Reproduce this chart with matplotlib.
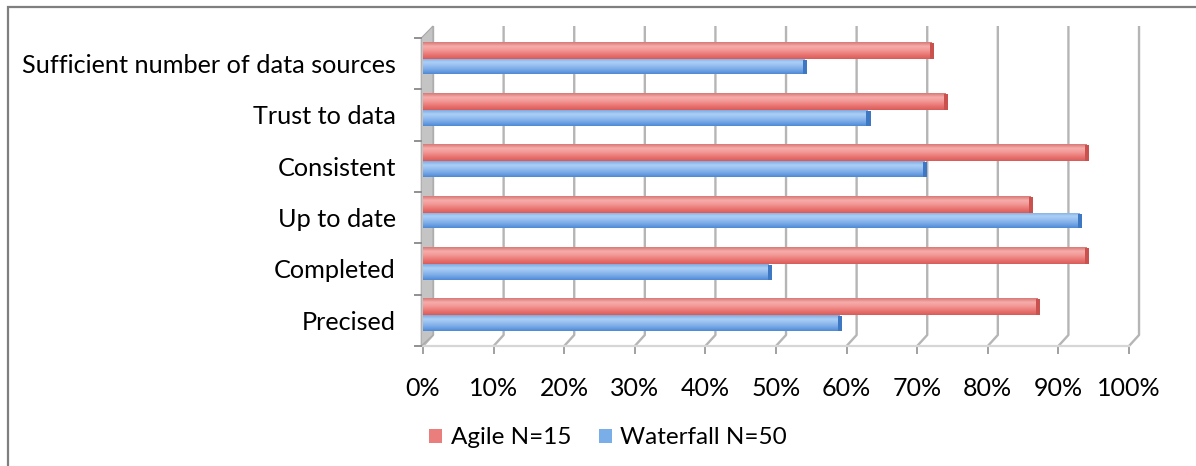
import numpy as np
import matplotlib
matplotlib.use("Agg")
import matplotlib.pyplot as plt
from matplotlib.patches import Polygon, Rectangle, Patch
from matplotlib.colors import LinearSegmentedColormap

categories = ["Sufficient number of data sources", "Trust to data", "Consistent",
              "Up to date", "Completed", "Precised"]
agile = [72, 74, 94, 86, 94, 87]
waterfall = [54, 63, 71, 93, 49, 59]
series_names = ["Agile N=15", "Waterfall N=50"]
xticks = list(range(0, 101, 10))
xtick_labels = [f"{t}%" for t in xticks]

plt.rcParams['font.family'] = ['Lato', 'DejaVu Sans']

W, H = 1196, 466
fig = plt.figure(figsize=(W / 100, H / 100), dpi=100)

x0px, x100px = 423, 1129
top_px, bot_px = 26, 346
cat_h = (346 - 38) / 6.0
ytop_data = -0.5 - (38 - top_px) / cat_h
ax = fig.add_axes([x0px / W, 1 - bot_px / H, (x100px - x0px) / W, (bot_px - top_px) / H])
ax.set_xlim(0, 100)
ax.set_ylim(5.5, ytop_data)
for s in ax.spines.values():
    s.set_visible(False)

n = len(categories)
y = np.arange(n)
bh_r, bh_b = 0.33, 0.31
off = -0.1
y_r = y + off - bh_r / 2
y_b = y + off + bh_b / 2

back_dx = 1.42
back_bottom = 5.5 - 11 / cat_h

for t in xticks:
    ax.plot([t + back_dx, t + back_dx, t], [ytop_data, back_bottom, 5.5],
            color="#b5b5b5", lw=1.7, solid_capstyle="butt", zorder=1, clip_on=False)
    ax.plot([t, t], [5.5, 5.5 + 7 / cat_h], color="#a0a0a0", lw=1.4, zorder=1, clip_on=False)
ax.plot([0, 100], [5.5, 5.5], color="#d6d6d6", lw=1.6, zorder=1, clip_on=False)

wall = Polygon([(-0.25, 5.5), (back_dx, back_bottom), (back_dx, ytop_data), (-0.25, -0.5)],
               closed=True, facecolor="#c4c4c4", edgecolor="#a8a8a8", lw=0.8,
               zorder=2, clip_on=False)
ax.add_patch(wall)

for b in np.arange(-0.5, 5.6, 1.0):
    ax.plot([-1.1, -0.25], [b, b], color="#909090", lw=1.4, clip_on=False, zorder=2)

red_cmap = LinearSegmentedColormap.from_list("r", ["#d77876", "#f7aeac", "#f29593", "#e97572", "#d85c59"])
blue_cmap = LinearSegmentedColormap.from_list("b", ["#7fa9de", "#acd0f7", "#93bcef", "#74a6e6", "#4f8ad6"])
grad = np.linspace(0, 1, 64).reshape(-1, 1)

def gradient_bars(bars, cmap, capcol):
    for p in bars:
        x_a = p.get_x(); w = p.get_width()
        y_a = p.get_y(); h = p.get_height()
        im = ax.imshow(grad, cmap=cmap, aspect="auto", origin="upper",
                       extent=(x_a, x_a + w, y_a + h, y_a), zorder=3, interpolation="bilinear")
        im.set_clip_path(p)
        cap = Rectangle((x_a + w - 0.2, y_a + 0.02), 0.6, h - 0.02, facecolor=capcol,
                        edgecolor="none", zorder=4)
        ax.add_patch(cap)

bars_r = ax.barh(y_r, agile, height=bh_r, color="#ef8583", edgecolor="none", zorder=3,
                 label=series_names[0])
bars_b = ax.barh(y_b, waterfall, height=bh_b, color="#7aaee9", edgecolor="none", zorder=3,
                 label=series_names[1])
gradient_bars(bars_r, red_cmap, "#c9524f")
gradient_bars(bars_b, blue_cmap, "#3f78c2")
for p in list(bars_r) + list(bars_b):
    p.set_alpha(0.0)

ax.set_xlim(0, 100)
ax.set_ylim(5.5, ytop_data)

ax.set_xticks(xticks)
ax.set_xticklabels(xtick_labels, fontsize=18, color="#000000")
ax.tick_params(axis="x", length=0, pad=22)
ax.set_yticks(y)
ax.set_yticklabels(categories, fontsize=18.2, color="#000000")
ax.tick_params(axis="y", length=0, pad=19.5)

handles = [Patch(facecolor="#e97e7c", edgecolor="none"), Patch(facecolor="#7aaee9", edgecolor="none")]
fig.legend(handles, series_names, loc="center left", bbox_to_anchor=(429 / W, 1 - 438 / H),
           ncol=2, frameon=False, fontsize=17.5, handlelength=0.55, handleheight=0.55,
           handletextpad=0.35, columnspacing=1.12, borderaxespad=0, borderpad=0)

frame = Rectangle((8 / W, -0.05), 1.1, 1 - 7 / H + 0.05, transform=fig.transFigure,
                  facecolor="none", edgecolor="#7f7f7f", lw=1.6, clip_on=False)
fig.patches.append(frame)

fig.savefig("out.png", dpi=100, facecolor="white")
